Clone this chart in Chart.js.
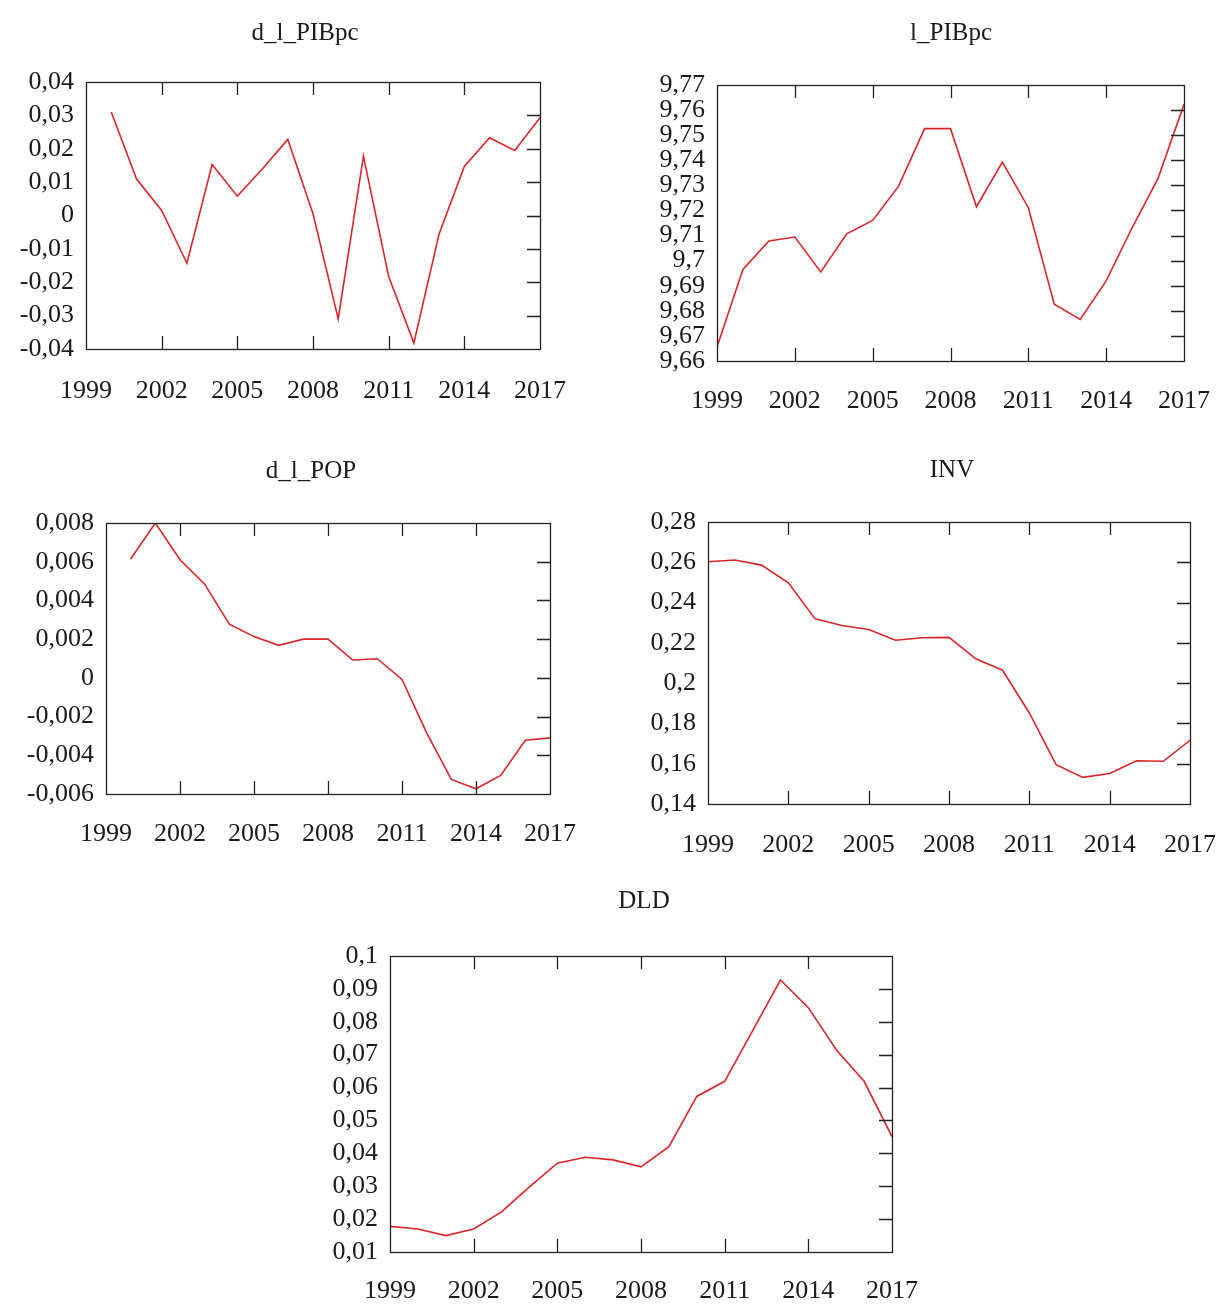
<!DOCTYPE html>
<html><head><meta charset="utf-8">
<script src="https://cdn.jsdelivr.net/npm/chart.js@4.4.1/dist/chart.umd.min.js"></script>
<style>
html,body{margin:0;padding:0;background:#fff;overflow:hidden;width:1225px;height:1307px;position:relative}
canvas{position:absolute}
</style></head><body>
<canvas id="c1"></canvas><canvas id="c2"></canvas><canvas id="c3"></canvas><canvas id="c4"></canvas><canvas id="c5"></canvas>
<script>
// ---- data ----
const years = [1999,2000,2001,2002,2003,2004,2005,2006,2007,2008,2009,2010,2011,2012,2013,2014,2015,2016,2017];
const d_l_PIBpc = [null,0.031,0.011,0.0015,-0.0143,0.0153,0.0058,0.014,0.0228,0.0005,-0.031,0.0178,-0.0183,-0.0382,-0.0055,0.0147,0.0233,0.0195,0.0293];
const l_PIBpc = [9.6656,9.6965,9.7078,9.7094,9.6955,9.7107,9.716,9.7297,9.7526,9.7526,9.7215,9.7393,9.7211,9.6826,9.6766,9.6919,9.7131,9.7328,9.7623];
const d_l_POP = [null,0.00614,0.0080,0.0061,0.00484,0.00277,0.00213,0.00168,0.0020,0.0020,0.00092,0.00099,-0.00008,-0.00284,-0.00525,-0.00573,-0.00504,-0.00322,-0.0031];
const INV = [0.2603,0.2611,0.2586,0.2498,0.2319,0.2286,0.2266,0.2213,0.2225,0.2227,0.2121,0.2064,0.1852,0.1595,0.1532,0.1551,0.1615,0.1612,0.1716];
const DLD = [0.0178,0.017,0.015,0.017,0.0222,0.0298,0.037,0.0388,0.038,0.0359,0.042,0.0573,0.0619,0.0772,0.0927,0.0843,0.0715,0.0619,0.0451];
const titles = ["d_l_PIBpc","l_PIBpc","d_l_POP","INV","DLD"];
const yRanges = [[-0.04,0.04,0.01],[9.66,9.77,0.01],[-0.006,0.008,0.002],[0.14,0.28,0.02],[0.01,0.1,0.01]];
const xTickStep = 3;

// ---- layout (positions only) ----
const layout = [
  {id:'c1', L:86,  T:82,  R:540,  B:349,  tx:305, ty:33,  yw:80, xpad:27},
  {id:'c2', L:717, T:85,  R:1184, B:361,  tx:951, ty:33,  yw:70, xpad:25},
  {id:'c3', L:106, T:523, R:550,  B:794,  tx:311, ty:471, yw:90, xpad:25},
  {id:'c4', L:708, T:522, R:1190, B:804,  tx:952, ty:470, yw:70, xpad:26},
  {id:'c5', L:390, T:956, R:892,  B:1252, tx:644, ty:901, yw:70, xpad:24}
];
const series = [d_l_PIBpc, l_PIBpc, d_l_POP, INV, DLD];

const FONT = "'Liberation Serif', 'Times New Roman', serif";
const FS = 26;
const TFS = 25;
const TLH = TFS * 1.2;
const TICKLEN = 13;
const XH = 75;

const fmt = v => {
  const n = Number(Number(v).toFixed(6));
  return String(n).replace('.', ',');
};

const framePlugin = {
  id: 'frame',
  afterDraw(chart) {
    const {ctx, chartArea: a, scales} = chart;
    ctx.save();
    ctx.strokeStyle = '#222';
    ctx.lineWidth = 1.3;
    ctx.beginPath();
    scales.x.ticks.forEach(t => {
      const px = Math.round(scales.x.getPixelForValue(t.value)) + 0.5;
      if (px <= a.left + 1 || px >= a.right - 1) return;
      ctx.moveTo(px, a.bottom); ctx.lineTo(px, a.bottom - TICKLEN);
      ctx.moveTo(px, a.top); ctx.lineTo(px, a.top + TICKLEN);
    });
    scales.y.ticks.forEach(t => {
      const py = Math.round(scales.y.getPixelForValue(t.value)) + 0.5;
      if (py <= a.top + 1 || py >= a.bottom - 1) return;
      ctx.moveTo(a.right, py); ctx.lineTo(a.right - TICKLEN, py);
    });
    ctx.stroke();
    ctx.strokeRect(Math.round(a.left) + 0.5, Math.round(a.top) + 0.5, Math.round(a.right - a.left), Math.round(a.bottom - a.top));
    ctx.restore();
  }
};

layout.forEach((p, i) => {
  const cv = document.getElementById(p.id);
  const cLeft = p.L - p.yw;
  const cRight = 2 * p.tx - cLeft;
  const rw = cRight - p.R;
  const cTop = p.ty - 22;
  const padTop = 22 - TLH / 2;
  const padBottom = (p.T - cTop) - TLH - padTop;
  const w = cRight - cLeft;
  const h = (p.B - cTop) + XH;
  cv.width = w; cv.height = h;
  cv.style.left = cLeft + 'px'; cv.style.top = cTop + 'px';
  cv.style.width = w + 'px'; cv.style.height = h + 'px';
  const vals = series[i];
  const pts = years.map((yr, k) => ({x: yr, y: vals[k]})).filter(d => d.y !== null);
  const [ymin, ymax, ystep] = yRanges[i];
  new Chart(cv, {
    type: 'line',
    data: { datasets: [{ label: titles[i], data: pts, borderColor: '#d8262a', borderWidth: 1.6, pointRadius: 0, tension: 0, fill: false }] },
    options: {
      responsive: false, animation: false, devicePixelRatio: 1,
      layout: { padding: 0 },
      plugins: {
        legend: { display: false }, tooltip: { enabled: false },
        title: { display: true, text: titles[i], color: '#1a1a1a', font: { family: FONT, size: TFS, weight: 'normal' }, padding: { top: padTop, bottom: padBottom } }
      },
      scales: {
        x: {
          type: 'linear', min: years[0], max: years[years.length - 1],
          grid: { display: false, drawTicks: false }, border: { display: false },
          ticks: { stepSize: xTickStep, color: '#1a1a1a', font: { family: FONT, size: FS }, padding: p.xpad, maxRotation: 0, autoSkip: false, callback: v => String(v) },
          afterFit: s => { s.height = XH; }
        },
        y: {
          type: 'linear', min: ymin, max: ymax,
          grid: { display: false, drawTicks: false }, border: { display: false },
          ticks: { stepSize: ystep, color: '#1a1a1a', font: { family: FONT, size: FS }, padding: 12, autoSkip: false, callback: v => fmt(v) },
          afterFit: s => { s.width = p.yw; }
        },
        yR: {
          type: 'linear', position: 'right', display: true,
          grid: { display: false, drawTicks: false }, border: { display: false },
          ticks: { display: false },
          afterFit: s => { s.width = rw; }
        }
      }
    },
    plugins: [framePlugin]
  });
});
</script>
</body></html>
